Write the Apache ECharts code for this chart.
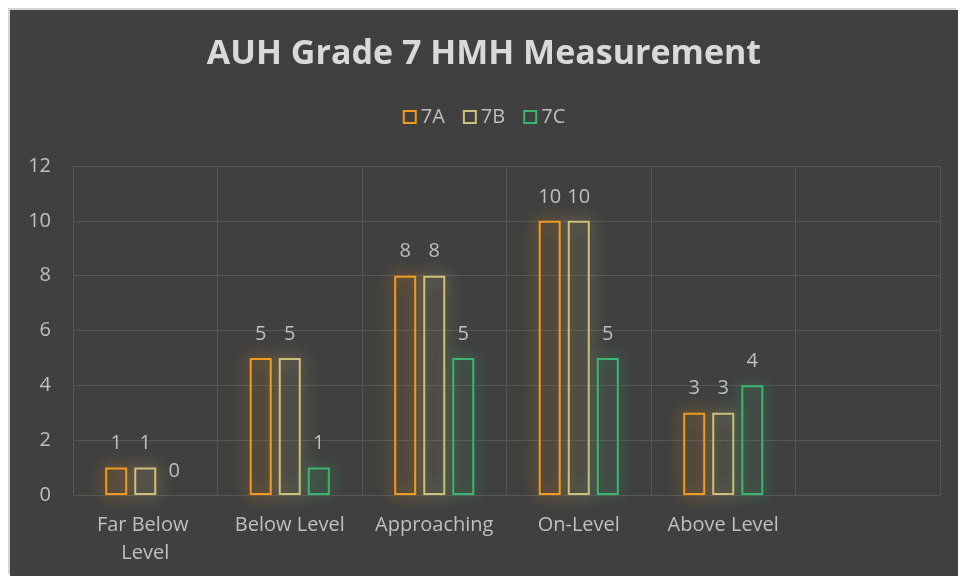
<!DOCTYPE html>
<html>
<head>
<meta charset="utf-8">
<script src="https://cdn.jsdelivr.net/npm/echarts@6/dist/echarts.min.js"></script>
<style>
html,body{margin:0;padding:0;background:#fff;}
#main{position:absolute;left:10px;top:10px;width:948px;height:566px;background:#404040;
	box-shadow:-2px -2px 0 #d4d4d4;}
</style>
</head>
<body>
<div id="main"></div>
<script>
// categories (the 6th slot is empty in the original)
var categories = ['Far Below Level','Below Level','Approaching','On-Level','Above Level',''];
var seriesNames = ['7A','7B','7C'];
var data7A = [1,5,8,10,3];
var data7B = [1,5,8,10,3];
var data7C = [0,1,5,5,4];
var yTicks = [0,2,4,6,8,10,12];
var colors = ['#F39A1E','#CEC07A','#3DB56E'];

var font = 'Open Sans';
var chart = echarts.init(document.getElementById('main'));

function makeSeries(name,data,color){
	return {
		name:name,
		type:'bar',
		//零值的柱子不画边框
		data:data.map(function(v){
			return v===0 ? {value:v,itemStyle:{borderWidth:0,shadowBlur:0}} : v
		}),
		barWidth:22,
		barGap:'32%',
		itemStyle:{
			color:'rgba(0,0,0,0)',
			borderColor:color,
			borderWidth:2,
			shadowBlur:16,
			shadowColor:color
		},
		label:{
			show:true,
			position:'top',
			distance:14,
			color:'#BFBFBF',
			fontSize:20,
			fontFamily:font
		}
	}
}

chart.setOption({
	backgroundColor:'#404040',
	title:{
		text:'AUH Grade 7 HMH Measurement',
		left:'center',
		top:22,
		padding:[5,5,5,15],
		textStyle:{color:'#D9D9D9',fontSize:34,fontWeight:'bold',fontFamily:font}
	},
	legend:{
		data:seriesNames,
		top:92,
		left:'center',
		padding:[5,5,5,23],
		itemWidth:12,
		itemHeight:12,
		itemGap:18,
		icon:'rect',
		textStyle:{color:'#BFBFBF',fontSize:20,fontFamily:font}
	},
	grid:{left:63,right:18,top:156,bottom:81},
	xAxis:{
		type:'category',
		data:categories,
		axisLine:{show:false},
		axisTick:{show:false},
		splitLine:{show:true,interval:0,lineStyle:{color:'#555555',width:1}},
		axisLabel:{
			interval:0,
			color:'#BFBFBF',
			fontSize:20,
			fontFamily:font,
			margin:16,
			width:140,
			overflow:'break',
			lineHeight:28
		}
	},
	yAxis:{
		type:'value',
		min:yTicks[0],
		max:yTicks[yTicks.length-1],
		interval:2,
		axisLine:{show:false},
		axisTick:{show:false},
		splitLine:{lineStyle:{color:'#555555',width:1}},
		axisLabel:{color:'#BFBFBF',fontSize:20,fontFamily:font,margin:22}
	},
	series:[
		makeSeries(seriesNames[0],data7A,colors[0]),
		makeSeries(seriesNames[1],data7B,colors[1]),
		makeSeries(seriesNames[2],data7C,colors[2])
	]
});
</script>
</body>
</html>
